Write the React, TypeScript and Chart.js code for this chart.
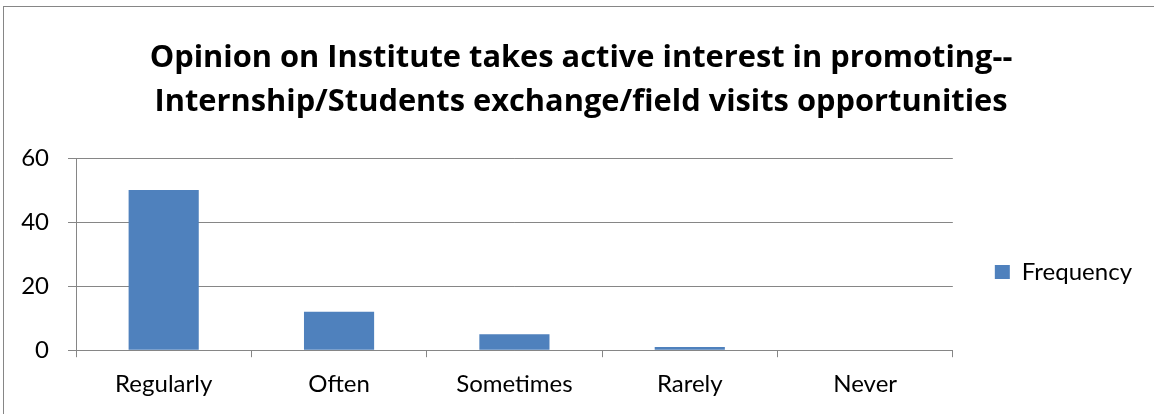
import React, { useEffect, useRef } from "react";
import { Chart, registerables } from "chart.js";

Chart.register(...registerables);

const categories = ["Regularly", "Often", "Sometimes", "Rarely", "Never"];
const frequency = [50, 12, 5, 1, 0];
const seriesName = "Frequency";
const titleLines = [
  "Opinion on Institute takes active interest in promoting--",
  "Internship/Students exchange/field visits opportunities",
];
const yMax = 60;
const yStep = 20;

const FONT = "Lato, 'Open Sans', sans-serif";
const TITLE_FONT = "'Open Sans', Lato, sans-serif";
const GRID = "#868686";

const framePlugin = {
  id: "frame",
  beforeDraw(chart: any) {
    const ctx = chart.ctx;
    ctx.save();
    ctx.fillStyle = "#ffffff";
    ctx.fillRect(0, 0, chart.width, chart.height);
    ctx.strokeStyle = GRID;
    ctx.lineWidth = 1;
    ctx.strokeRect(3.5, 6.5, chart.width + 20, chart.height + 20);
    ctx.restore();
  },
};

export default function App() {
  const ref = useRef<HTMLCanvasElement>(null);
  useEffect(() => {
    if (!ref.current) return;
    const chart = new Chart(ref.current, {
      type: "bar",
      data: {
        labels: categories,
        datasets: [
          {
            label: seriesName,
            data: frequency,
            backgroundColor: "#4F81BD",
            borderWidth: 0,
            barPercentage: 1,
            categoryPercentage: 0.4,
          },
        ],
      },
      plugins: [framePlugin],
      options: {
        responsive: false,
        animation: false,
        layout: { padding: { left: 20, right: 12, top: 6, bottom: 2 } },
        plugins: {
          tooltip: { enabled: false },
          title: {
            display: true,
            text: titleLines,
            color: "#000",
            font: { family: TITLE_FONT, size: 30.8, weight: "bold", lineHeight: 44 / 30.8 },
            padding: { top: 30, bottom: 34 },
          },
          legend: {
            position: "right",
            fullSize: false,
            title: {
              display: true,
              text: " ",
              font: { size: 10, lineHeight: 1.2 },
              padding: { top: 24, bottom: 0 },
            },
            labels: {
              color: "#000",
              boxWidth: 15,
              boxHeight: 14,
              font: { family: FONT, size: 24 },
              padding: 42,
            },
          },
        },
        scales: {
          x: {
            grid: {
              offset: true,
              drawOnChartArea: false,
              drawTicks: true,
              tickLength: 7,
              color: GRID,
            },
            border: { color: GRID },
            ticks: { color: "#000", font: { family: FONT, size: 24 }, padding: 13 },
          },
          y: {
            min: 0,
            max: yMax,
            grid: { color: GRID, tickLength: 8 },
            border: { color: GRID },
            ticks: {
              stepSize: yStep,
              color: "#000",
              font: { family: FONT, size: 24 },
              padding: 19,
            },
            afterFit: (s: any) => {
              s.width = 56;
            },
          },
        },
      },
    });
    return () => chart.destroy();
  }, []);
  return (
    <div style={{ position: "absolute", left: 0, top: 0, width: 1154, height: 414 }}>
      <canvas ref={ref} width={1154} height={414} style={{ width: 1154, height: 414 }} />
    </div>
  );
}
